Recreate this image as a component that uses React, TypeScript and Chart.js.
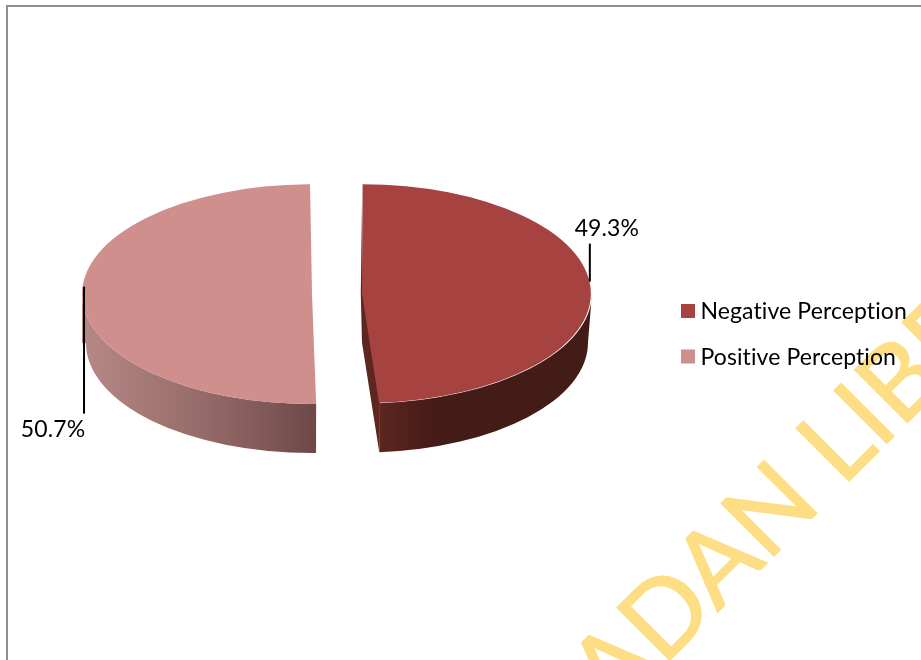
import React, { useEffect, useRef } from "react";
import { Chart, ArcElement, PieController } from "chart.js";

Chart.register(ArcElement, PieController);

const categories = ["Negative Perception", "Positive Perception"];
const shares = [49.3, 50.7];
const faceColors = ["#a64340", "#ce8f8d"];

const WIDTH = 921;
const HEIGHT = 660;
const FONT = "Lato, Carlito, sans-serif";
const EXPLODE = 25;
// The arc element widens an exploded slice by its push distance.
const RADIUS = 230 - EXPLODE;
const SQUASH = 0.478;
const DEPTH = 49;
const PIE_Y = 294;
// Small per-slice turn, in degrees, that keeps the upper cut edges upright.
const sliceTurn = [-0.8, 0.5];

const sideStops: [number, string][][] = [
  [[0, "#5e2620"], [0.27, "#431b17"], [1, "#431b17"]],
  [[0, "#b58785"], [0.2, "#a87d79"], [0.6, "#8f6564"], [1, "#6c4847"]],
];
const sideSpans = [[378, 588], [86, 318]];
const callouts = [
  { dx: -2, from: -8, to: -46, textX: 15, textY: -61 },
  { dx: 2, from: -9, to: 118, textX: -29, textY: 134 },
];

function arcGeometry(chart: any, i: number) {
  const arc = chart.getDatasetMeta(0).data[i];
  const { x, startAngle, endAngle, outerRadius } = arc.getProps(
    ["x", "startAngle", "endAngle", "outerRadius"],
    true
  );
  const mid = (startAngle + endAngle) / 2;
  const push = arc.options.offset / 4;
  const r = outerRadius + push;
  // Exploded arcs are drawn slightly short of their angles at both ends.
  const trim = push / Math.PI / r / 2;
  return {
    drawnStart: startAngle + trim,
    drawnEnd: endAngle - trim,
    mid,
    r,
    cx: x + Math.cos(mid) * push,
    cy: PIE_Y + Math.sin(mid) * push * SQUASH,
  };
}

// Watermark and the thin page frame sit behind everything else.
const backdrop = {
  id: "backdrop",
  afterDatasetsUpdate(chart: any) {
    chart.getDatasetMeta(0).data.forEach((arc: any, i: number) => {
      const turn = (sliceTurn[i] * Math.PI) / 180;
      arc.startAngle += turn;
      arc.endAngle += turn;
    });
  },
  beforeDraw(chart: any) {
    const ctx = chart.ctx;
    ctx.save();
    ctx.fillStyle = "#ffffff";
    ctx.fillRect(0, 0, WIDTH, HEIGHT);
    ctx.fillStyle = "#8f8f8f";
    ctx.fillRect(6, 5, WIDTH - 6, 2);
    ctx.fillRect(6, 5, 2, HEIGHT - 5);
    ctx.translate(848, 482);
    ctx.rotate(-Math.PI / 4);
    ctx.font = `104px ${FONT}`;
    ctx.fillStyle = "#fede85";
    ctx.strokeStyle = "#fede85";
    ctx.lineWidth = 1.5;
    ctx.textBaseline = "alphabetic";
    const before = "UNIVERSITY OF IBADAN ";
    const x = -ctx.measureText(before).width - 8;
    ctx.fillText(before + "LIBRARY", x, 0);
    ctx.strokeText(before + "LIBRARY", x, 0);
    ctx.restore();
  },
};

// The rim and cut faces go under the slices; the slices themselves are the
// library's arcs, flattened into an ellipse by the canvas transform.
const tiltedPie = {
  id: "tiltedPie",
  beforeDatasetsDraw(chart: any) {
    const ctx = chart.ctx;
    categories.forEach((_, i) => {
      const g = arcGeometry(chart, i);
      const ry = g.r * SQUASH;
      const lowRx = g.r - 4;
      const lowY = g.cy + DEPTH;
      const from = Math.max(g.drawnStart, 0);
      const to = Math.min(g.drawnEnd, Math.PI);
      const fill = ctx.createLinearGradient(sideSpans[i][0], 0, sideSpans[i][1], 0);
      sideStops[i].forEach(([p, c]) => fill.addColorStop(p, c));
      ctx.save();
      ctx.fillStyle = fill;
      ctx.beginPath();
      ctx.ellipse(g.cx, g.cy, g.r, ry, 0, from, to);
      ctx.lineTo(g.cx + g.r * Math.cos(to), lowY + ry * Math.sin(to));
      ctx.ellipse(g.cx, lowY, lowRx, ry, 0, to, from, true);
      ctx.closePath();
      ctx.fill();
      if (i === 0) {
        // Cut face of the slice that opens towards the viewer, plus the thin
        // sliver showing behind its upper edge.
        const ex = g.cx + g.r * Math.cos(g.drawnEnd);
        const ey = g.cy + ry * Math.sin(g.drawnEnd);
        ctx.fillStyle = "#5e2620";
        ctx.beginPath();
        ctx.moveTo(g.cx, g.cy - 90);
        ctx.lineTo(g.cx - 1.2, g.cy);
        ctx.lineTo(g.cx, lowY);
        ctx.lineTo(ex, ey + DEPTH);
        ctx.lineTo(ex + 0.5, ey);
        ctx.lineTo(g.cx + 1, g.cy);
        ctx.closePath();
        ctx.fill();
      }
      ctx.restore();
    });
    const mid = (chart.chartArea.top + chart.chartArea.bottom) / 2;
    const cx = (chart.chartArea.left + chart.chartArea.right) / 2;
    ctx.save();
    ctx.translate(cx, PIE_Y);
    ctx.scale(1, SQUASH);
    ctx.translate(-cx, -mid);
  },
  afterDatasetsDraw(chart: any) {
    const ctx = chart.ctx;
    ctx.restore();
    ctx.save();
    ctx.font = `23px ${FONT}`;
    (ctx as any).letterSpacing = "0.1px";
    ctx.fillStyle = "#000000";
    ctx.textBaseline = "middle";
    ctx.textAlign = "center";
    categories.forEach((_, i) => {
      const g = arcGeometry(chart, i);
      const c = callouts[i];
      const ax = g.cx + g.r * Math.cos(g.mid);
      const ay = g.cy + g.r * SQUASH * Math.sin(g.mid);
      ctx.fillRect(ax + c.dx - 1, Math.min(ay + c.from, ay + c.to), 2, Math.abs(c.to - c.from));
      ctx.fillText(`${shares[i].toFixed(1)}%`, ax + c.textX, ay + c.textY);
    });
    // Key to the right of the pie.
    categories.forEach((name, i) => {
      const y = 311 + i * 45.5;
      ctx.fillStyle = faceColors[i];
      ctx.fillRect(681, y - 7, 14, 14);
      ctx.fillStyle = "#000000";
      ctx.textAlign = "left";
      ctx.fillText(name, 700.5, y + 1);
    });
    ctx.restore();
  },
};

export default function App() {
  const canvasRef = useRef<HTMLCanvasElement>(null);

  useEffect(() => {
    const chart = new Chart(canvasRef.current!, {
      type: "pie",
      data: {
        labels: categories,
        datasets: [
          {
            data: shares,
            backgroundColor: faceColors,
            borderWidth: 0,
            offset: EXPLODE * 4,
            clip: false,
          } as any,
        ],
      },
      options: {
        responsive: false,
        animation: false,
        radius: RADIUS,
        layout: { padding: { left: 0, right: WIDTH - 674, top: 0, bottom: 0 } },
        plugins: { legend: { display: false }, tooltip: { enabled: false } },
      } as any,
      plugins: [backdrop, tiltedPie],
    });
    return () => chart.destroy();
  }, []);

  return (
    <div style={{ position: "absolute", left: 0, top: 0, width: WIDTH, height: HEIGHT }}>
      <canvas ref={canvasRef} width={WIDTH} height={HEIGHT} style={{ display: "block" }} />
    </div>
  );
}
